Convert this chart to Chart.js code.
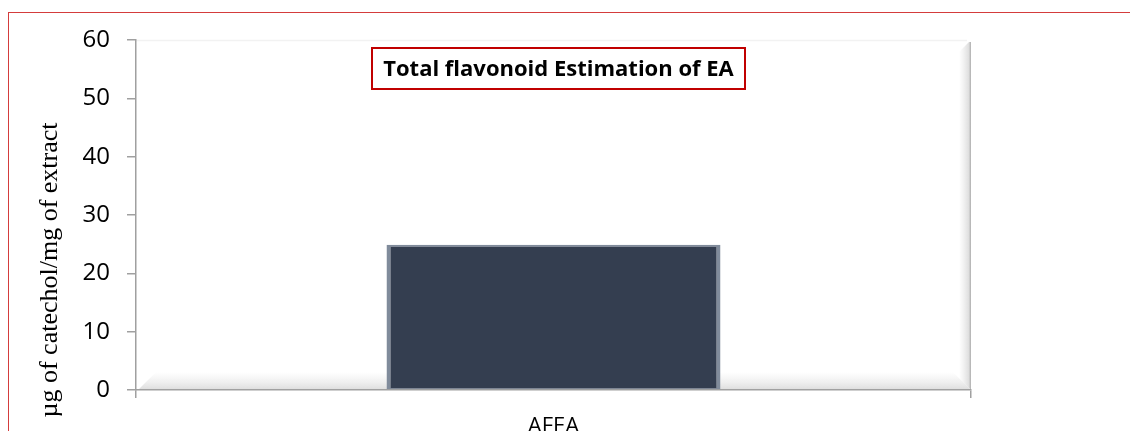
<!DOCTYPE html>
<html>
<head>
<meta charset="utf-8">
<script src="https://cdn.jsdelivr.net/npm/chart.js@4"></script>
<style>
  html, body { margin: 0; padding: 0; background: #fff; }
  #wrap { position: relative; width: 1130px; height: 431px; overflow: hidden; }
  #frame { position: absolute; left: 8px; top: 12px; width: 1300px; height: 600px;
           border-top: 1.5px solid #d43c3c; border-left: 1.5px solid #d43c3c; pointer-events: none; }
</style>
</head>
<body>
<div id="wrap">
  <canvas id="chart" width="1130" height="431"></canvas>
  <div id="frame"></div>
</div>
<script>
const categories = ['AFEA'];
const values = [24.9];
const yTicks = [0, 10, 20, 30, 40, 50, 60];
const chartTitle = 'Total flavonoid Estimation of EA';
const yTitle = 'µg of catechol/mg of extract';

Chart.defaults.font.family = "'Open Sans', sans-serif";
Chart.defaults.color = '#000';

// bevelled plot background, boxed title and the y axis title
const decor = {
  id: 'decor',
  beforeDraw(chart) {
    const { ctx, chartArea: a } = chart;
    ctx.save();
    // right bevel
    let g = ctx.createLinearGradient(a.right - 12, 0, a.right, 0);
    g.addColorStop(0, 'rgba(200,200,200,0)');
    g.addColorStop(0.8, 'rgba(185,185,185,0.45)');
    g.addColorStop(1, 'rgba(150,150,150,0.8)');
    ctx.fillStyle = g;
    ctx.beginPath();
    ctx.moveTo(a.right - 12, a.top + 12);
    ctx.lineTo(a.right - 2, a.top + 2);
    ctx.lineTo(a.right, a.top + 2);
    ctx.lineTo(a.right, a.bottom);
    ctx.lineTo(a.right - 12, a.bottom - 12);
    ctx.closePath();
    ctx.fill();
    // bottom bevel
    g = ctx.createLinearGradient(0, a.bottom - 18, 0, a.bottom);
    g.addColorStop(0, 'rgba(225,225,225,0)');
    g.addColorStop(1, 'rgba(205,205,205,0.7)');
    ctx.fillStyle = g;
    ctx.beginPath();
    ctx.moveTo(a.left + 2, a.bottom);
    ctx.lineTo(a.left + 20, a.bottom - 18);
    ctx.lineTo(a.right - 18, a.bottom - 18);
    ctx.lineTo(a.right - 12, a.bottom - 12);
    ctx.lineTo(a.right, a.bottom);
    ctx.closePath();
    ctx.fill();
    ctx.strokeStyle = '#f2f2f2';
    ctx.lineWidth = 1.5;
    ctx.beginPath();
    ctx.moveTo(a.left, a.top + 0.5);
    ctx.lineTo(a.right - 4, a.top + 0.5);
    ctx.stroke();
    ctx.restore();
  },
  afterDraw(chart) {
    const { ctx } = chart;
    ctx.save();
    // title box
    const bx = 372, by = 48, bw = 373, bh = 41;
    ctx.fillStyle = '#fff';
    ctx.fillRect(bx, by, bw, bh);
    ctx.strokeStyle = '#c00000';
    ctx.lineWidth = 2;
    ctx.strokeRect(bx, by, bw, bh);
    ctx.fillStyle = '#000';
    ctx.font = "bold 22px 'Open Sans', sans-serif";
    ctx.textAlign = 'center';
    ctx.textBaseline = 'middle';
    ctx.fillText(chartTitle, bx + bw / 2, by + bh / 2 + 1);
    // y title
    ctx.translate(50, 270);
    ctx.rotate(-Math.PI / 2);
    ctx.font = "26px 'Liberation Serif', 'Times New Roman', serif";
    ctx.fillText(yTitle, 0, 0);
    ctx.restore();
  }
};

new Chart(document.getElementById('chart'), {
  type: 'bar',
  data: {
    labels: categories,
    datasets: [{
      data: values,
      backgroundColor: '#343e50',
      borderColor: '#808b9b',
      borderWidth: { left: 4, right: 4, top: 2, bottom: 1 },
      borderSkipped: false,
      barPercentage: 0.4,
      categoryPercentage: 1
    }]
  },
  options: {
    responsive: false,
    devicePixelRatio: 1,
    animation: false,
    layout: { padding: { top: 40, right: 159, left: 0, bottom: 0 } },
    plugins: { legend: { display: false }, tooltip: { enabled: false }, title: { display: false } },
    scales: {
      x: {
        afterFit(scale) { scale.height = 41; },
        grid: { display: true, drawOnChartArea: false, drawTicks: true, tickLength: 8, color: '#a0a0a0', lineWidth: 1.5 },
        border: { display: true, color: '#a0a0a0', width: 1.5 },
        ticks: { padding: 16, font: { size: 22 }, color: '#000' }
      },
      y: {
        min: yTicks[0],
        max: yTicks[yTicks.length - 1],
        afterFit(scale) { scale.width = 136; },
        grid: { display: true, drawOnChartArea: false, drawTicks: true, tickLength: 9, color: '#a0a0a0', lineWidth: 1.5 },
        border: { display: true, color: '#a0a0a0', width: 1.5 },
        ticks: { stepSize: yTicks[1] - yTicks[0], padding: 17, font: { size: 24 }, color: '#000' }
      }
    }
  },
  plugins: [decor]
});
</script>
</body>
</html>
